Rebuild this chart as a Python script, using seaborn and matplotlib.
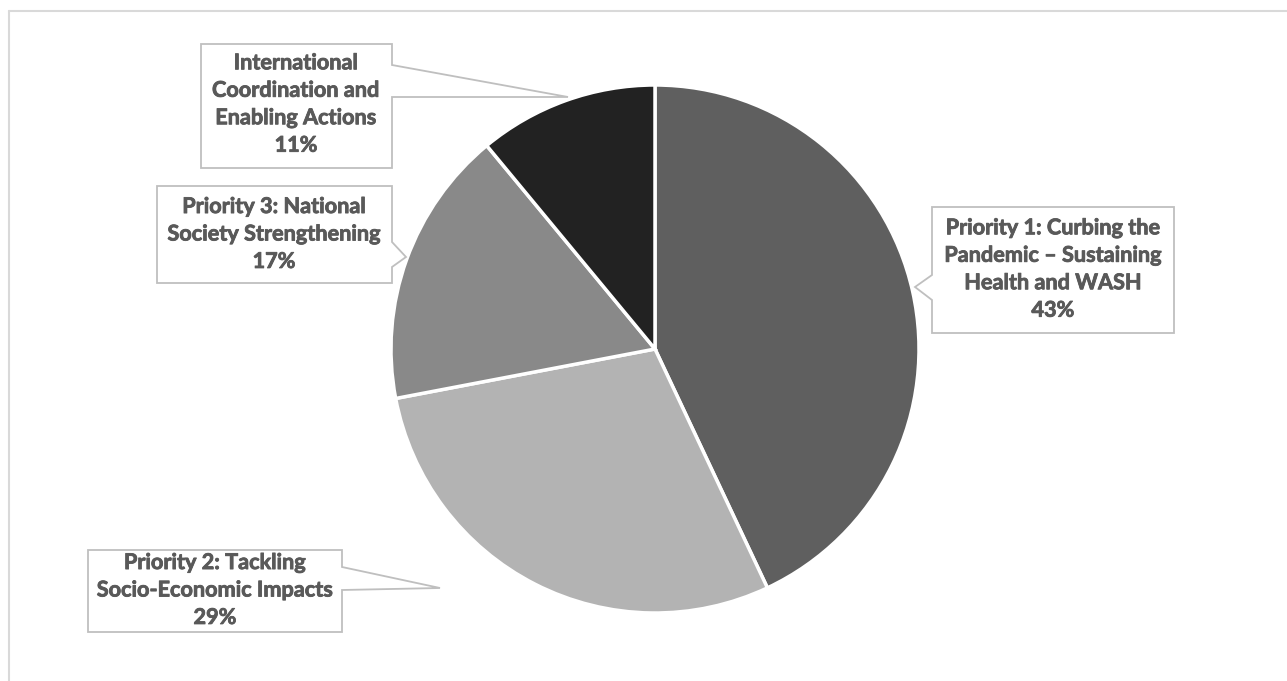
import matplotlib
matplotlib.use("Agg")
import matplotlib.pyplot as plt
import matplotlib.patheffects as pe
import seaborn as sns
from matplotlib.patches import Polygon
from matplotlib.lines import Line2D

# ---- data ----
categories = [
    "Priority 1: Curbing the\nPandemic – Sustaining\nHealth and WASH",
    "Priority 2: Tackling\nSocio-Economic Impacts",
    "Priority 3: National\nSociety Strengthening",
    "International\nCoordination and\nEnabling Actions",
]
shares = [43, 29, 17, 11]
pct_labels = ["43%", "29%", "17%", "11%"]
colors = ["#5f5f5f", "#b3b3b3", "#898989", "#222222"]

sns.set_theme(style="white")
plt.rcParams["font.family"] = ["Lato", "DejaVu Sans"]

W, H = 1287, 681
fig = plt.figure(figsize=(W / 100, H / 100), dpi=100)
fig.patch.set_facecolor("white")

def px(x, y):
    return (x / W, 1 - y / H)

# chart border (top and left visible)
fig.add_artist(Line2D([8.5 / W, 1.0], [1 - 10.5 / H] * 2, color="#d9d9d9", lw=1.5, transform=fig.transFigure))
fig.add_artist(Line2D([8.5 / W] * 2, [0, 1 - 10.5 / H], color="#d9d9d9", lw=1.5, transform=fig.transFigure))

# pie axes
cx, cy, r = 655, 349, 264
ax = fig.add_axes([(cx - r) / W, (H - cy - r) / H, 2 * r / W, 2 * r / H])
wedges, _ = ax.pie(shares, colors=colors, startangle=90, counterclock=False, radius=1,
                   wedgeprops=dict(edgecolor="white", linewidth=2.5))
for w in wedges:
    w.set_clip_on(False)
ax.set_xlim(-1, 1)
ax.set_ylim(-1, 1)
ax.set_aspect("equal")
ax.axis("off")

# callout boxes (layout in pixels)
callouts = [
    [(932, 207), (1174, 207), (1174, 333), (932, 333), (932, 300), (915, 287), (932, 275)],
    [(88, 550), (342, 550), (342, 567), (440, 588), (342, 590), (342, 632), (88, 632)],
    [(157, 186), (392, 186), (392, 242), (406, 257), (392, 267), (392, 283), (157, 283)],
    [(201, 44), (392, 44), (392, 65), (568, 97), (392, 97), (392, 168), (201, 168)],
]
text_centers = [(1053, 269), (215, 590), (274, 234), (296, 104)]

for pts, (tx, ty), cat, pct in zip(callouts, text_centers, categories, pct_labels):
    poly = Polygon([px(x, y) for x, y in pts], closed=True, transform=fig.transFigure,
                   facecolor="white", edgecolor="#bfbfbf", lw=1.3, zorder=5)
    fig.add_artist(poly)
    fig.text(tx / W, 1 - ty / H, cat + "\n" + pct, ha="center", va="center",
             fontsize=15.6, fontweight="bold", color="#595959", linespacing=1.38, zorder=6,
             path_effects=[pe.withStroke(linewidth=0.6, foreground="#595959")])

fig.savefig("out.png", dpi=100, facecolor="white")
